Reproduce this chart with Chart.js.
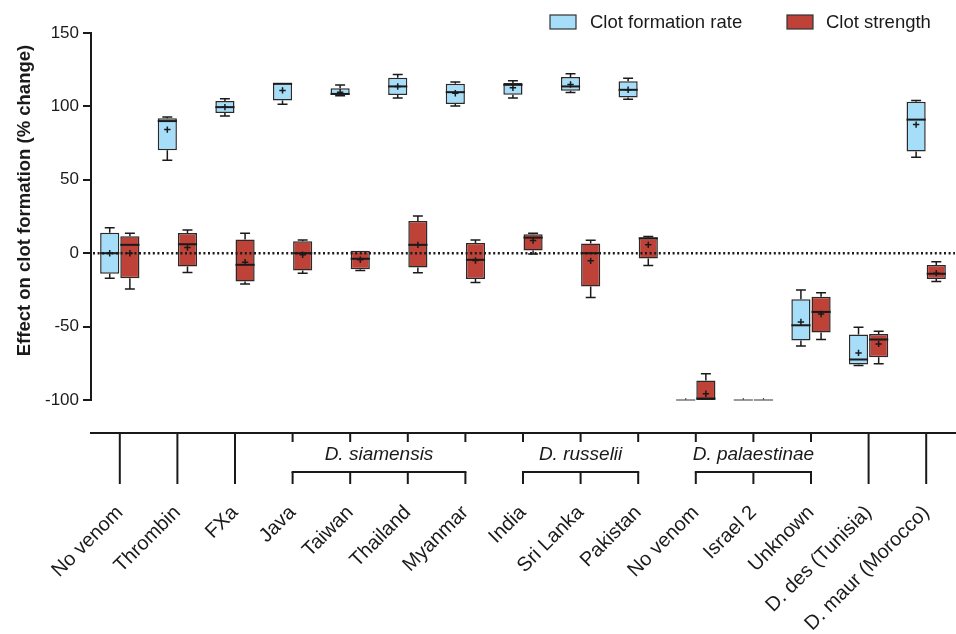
<!DOCTYPE html>
<html><head><meta charset="utf-8">
<script src="https://cdn.jsdelivr.net/npm/chart.js@4.4.1/dist/chart.umd.min.js"></script>
<style>html,body{margin:0;padding:0;background:#fff}#wrap{width:956px;height:634px;position:relative}</style>
</head><body><div id="wrap"><canvas id="c"></canvas></div>
<script>
const categories = ['No venom','Thrombin','FXa','Java','Taiwan','Thailand','Myanmar','India','Sri Lanka','Pakistan','No venom','Israel 2','Unknown','D. des (Tunisia)','D. maur (Morocco)'];
const groupNames = ['D. siamensis','D. russelii','D. palaestinae'];
const groupFirst = [3, 7, 10];
const groupLast = [6, 9, 12];
const seriesNames = ['Clot formation rate','Clot strength'];
const yTitle = 'Effect on clot formation (% change)';
const yTicks = [-100, -50, 0, 50, 100, 150];

const rateMin    = [-17, 63.3, 93.4, 101.4, 107.2, 105.7, 100.2, 105.7, 109.5, 104.8, -100, -100, -63.3, -76.5, 65.4];
const rateQ1     = [-14, 70.1, 95.5, 104.0, 107.9, 107.7, 101.6, 107.9, 110.6, 106.1, -100, -100, -59.5, -75.8, 69.2];
const rateMedian = [0, 90.0, 99.5, 115.4, 108.5, 113.6, 109.7, 114.7, 113.6, 111.3, -100, -100, -49.1, -72.4, 91.0];
const rateQ3     = [14, 91.9, 103.6, 116.0, 112.4, 119.5, 115.4, 116.0, 120.1, 117.2, -100, -100, -31.4, -55.4, 103.2];
const rateMax    = [17.4, 92.8, 105.2, 116.3, 114.5, 121.7, 116.7, 117.4, 122.2, 119.2, -100, -100, -25.1, -50.5, 104.1];
const rateMean   = [0, 84.2, 99.5, 110.9, 109.7, 113.6, 109.0, 112.7, 114.9, 111.3, -100, -100, -46.8, -67.9, 87.6];

const strengthMin    = [-24.4, -13.1, -21.0, -13.6, -11.8, -13.3, -19.9, -0.5, -30.1, -8.4, -100, -100, -58.8, -75.3, -19.2];
const strengthQ1     = [-17.0, -9.0, -19.2, -11.8, -10.9, -9.7, -17.6, 1.8, -22.6, -3.6, -100, -100, -54.1, -70.8, -17.6];
const strengthMedian = [5.7, 6.1, -7.9, 0, -3.8, 5.7, -4.5, 10.6, 0, 10.2, -99, -100, -40.0, -58.8, -14.0];
const strengthQ3     = [11.5, 13.8, 9.3, 8.1, 1.6, 21.9, 7.0, 12.9, 6.6, 10.6, -86.7, -100, -29.6, -55.0, -8.1];
const strengthMax    = [13.6, 15.8, 13.6, 9.0, 1.6, 25.3, 9.0, 13.6, 8.8, 11.3, -82.1, -100, -26.9, -53.2, -5.9];
const strengthMean   = [0, 3.8, -6.1, -1.1, -4.5, 5.7, -5.0, 8.6, -5.2, 5.7, -95.7, -100, -41.4, -61.8, -13.6];

const FONT = '"Liberation Sans", Arial, Helvetica, sans-serif';
const INK = '#1a1a1a';
const BLUE = 'rgb(166,221,248)';
const RED = 'rgb(190,66,56)';
Chart.defaults.font.family = FONT;
Chart.defaults.color = INK;

const stats = [
  {min: rateMin, q1: rateQ1, med: rateMedian, q3: rateQ3, max: rateMax, mean: rateMean},
  {min: strengthMin, q1: strengthQ1, med: strengthMedian, q3: strengthQ3, max: strengthMax, mean: strengthMean}
];

const boxExtras = {
  id: 'boxExtras',
  afterDatasetsDraw(chart) {
    const ctx = chart.ctx, ys = chart.scales.y, ca = chart.chartArea;
    ctx.save();
    ctx.strokeStyle = INK; ctx.lineWidth = 2.6; ctx.setLineDash([2, 2.6]);
    ctx.beginPath(); ctx.moveTo(ca.left + 2, ys.getPixelForValue(0)); ctx.lineTo(ca.right, ys.getPixelForValue(0)); ctx.stroke();
    ctx.setLineDash([]);
    stats.forEach((s, di) => {
      const meta = chart.getDatasetMeta(di);
      meta.data.forEach((bar, i) => {
        const x = bar.x, w = bar.width, cap = w * 0.26;
        const pMin = ys.getPixelForValue(s.min[i]), pQ1 = ys.getPixelForValue(s.q1[i]);
        const pQ3 = ys.getPixelForValue(s.q3[i]), pMax = ys.getPixelForValue(s.max[i]);
        const pMed = ys.getPixelForValue(s.med[i]), pMean = ys.getPixelForValue(s.mean[i]);
        ctx.strokeStyle = INK; ctx.lineWidth = 1.5;
        ctx.beginPath();
        if (pMax < pQ3 - 0.5) { ctx.moveTo(x, pQ3); ctx.lineTo(x, pMax); ctx.moveTo(x - cap, pMax); ctx.lineTo(x + cap, pMax); }
        if (pMin > pQ1 + 0.5) { ctx.moveTo(x, pQ1); ctx.lineTo(x, pMin); ctx.moveTo(x - cap, pMin); ctx.lineTo(x + cap, pMin); }
        ctx.stroke();
        if (Math.abs(pQ1 - pQ3) < 1) {
          ctx.strokeStyle = '#555'; ctx.lineWidth = 1.2;
          ctx.beginPath(); ctx.moveTo(x - w / 2, pQ1); ctx.lineTo(x + w / 2, pQ1); ctx.stroke();
          ctx.beginPath(); ctx.moveTo(x, pMean - 2); ctx.lineTo(x, pMean); ctx.stroke();
          return;
        }
        ctx.lineWidth = 2; ctx.strokeStyle = INK;
        ctx.beginPath(); ctx.moveTo(x - w / 2, pMed); ctx.lineTo(x + w / 2, pMed); ctx.stroke();
        ctx.lineWidth = 1.5;
        ctx.beginPath(); ctx.moveTo(x - 3.2, pMean); ctx.lineTo(x + 3.2, pMean); ctx.moveTo(x, pMean - 3.2); ctx.lineTo(x, pMean + 3.2); ctx.stroke();
      });
    });
    ctx.restore();
  }
};

const groupAxis = {
  id: 'groupAxis',
  afterDraw(chart) {
    const ctx = chart.ctx, xs = chart.scales.x, ca = chart.chartArea;
    const axisY = ca.bottom + 33, endY = ca.bottom + 84, shortY = ca.bottom + 42, brY = ca.bottom + 72, lblY = ca.bottom + 55;
    ctx.save();
    ctx.strokeStyle = INK; ctx.lineWidth = 2; ctx.lineCap = 'butt';
    ctx.beginPath(); ctx.moveTo(ca.left - 1, axisY); ctx.lineTo(chart.width, axisY); ctx.stroke();
    const inGroup = i => groupFirst.some((f, g) => i >= f && i <= groupLast[g]);
    categories.forEach((c, i) => {
      const x = xs.getPixelForValue(i);
      ctx.beginPath();
      if (inGroup(i)) { ctx.moveTo(x, axisY); ctx.lineTo(x, shortY); ctx.moveTo(x, brY); ctx.lineTo(x, endY); }
      else { ctx.moveTo(x, axisY); ctx.lineTo(x, endY); }
      ctx.stroke();
    });
    ctx.font = 'italic 19px ' + FONT; ctx.fillStyle = INK; ctx.textAlign = 'center'; ctx.textBaseline = 'middle';
    groupNames.forEach((name, g) => {
      const x1 = xs.getPixelForValue(groupFirst[g]), x2 = xs.getPixelForValue(groupLast[g]);
      ctx.beginPath(); ctx.moveTo(x1 - 1, brY); ctx.lineTo(x2 + 1, brY); ctx.stroke();
      ctx.fillText(name, (x1 + x2) / 2, lblY);
    });
    // y-axis title
    ctx.save();
    ctx.translate(24.5, (ca.top + ca.bottom) / 2 - 16);
    ctx.rotate(-Math.PI / 2);
    ctx.font = 'bold 18.5px ' + FONT; ctx.textAlign = 'center'; ctx.textBaseline = 'middle';
    ctx.fillText(yTitle, 0, 0);
    ctx.restore();
    ctx.restore();
  }
};

const customLegend = {
  id: 'customLegend',
  afterDraw(chart) {
    const ctx = chart.ctx;
    const items = [{x: 550, tx: 590, color: BLUE}, {x: 787, tx: 826, color: RED}];
    ctx.save();
    ctx.font = '18.5px ' + FONT; ctx.textBaseline = 'middle'; ctx.textAlign = 'left';
    items.forEach((it, k) => {
      ctx.fillStyle = it.color; ctx.fillRect(it.x, 15, 26, 14);
      ctx.strokeStyle = '#333'; ctx.lineWidth = 1.2; ctx.strokeRect(it.x, 15, 26, 14);
      ctx.fillStyle = INK; ctx.fillText(seriesNames[k], it.tx, 22.5);
    });
    ctx.restore();
  }
};

new Chart(document.getElementById('c'), {
  type: 'bar',
  data: {
    labels: categories,
    datasets: [
      {label: seriesNames[0], data: rateQ1.map((q, i) => [q, rateQ3[i]]), backgroundColor: BLUE, borderColor: '#2a2a2a', borderWidth: 1.5, borderSkipped: false, categoryPercentage: 0.7, barPercentage: 0.95},
      {label: seriesNames[1], data: strengthQ1.map((q, i) => [q, strengthQ3[i]]), backgroundColor: RED, borderColor: '#2a2a2a', borderWidth: 1.5, borderSkipped: false, categoryPercentage: 0.7, barPercentage: 0.95}
    ]
  },
  options: {
    responsive: true, maintainAspectRatio: false, animation: false,
    layout: {padding: {top: 33, right: 1, left: 0, bottom: 0}},
    plugins: {legend: {display: false}, tooltip: {enabled: false}},
    scales: {
      x: {
        grid: {display: false}, border: {display: false},
        ticks: {autoSkip: false, maxRotation: 45, minRotation: 45, font: {size: 20}, color: INK, padding: 93},
        afterFit(s) { s.height = 234; s.paddingLeft = 0; s.paddingRight = 0; }
      },
      y: {
        min: -100, max: 150,
        afterBuildTicks(s) { s.ticks = yTicks.map(v => ({value: v})); },
        ticks: {font: {size: 17}, color: INK, padding: 4},
        grid: {drawOnChartArea: false, drawTicks: true, tickLength: 8, color: INK, lineWidth: 2},
        border: {display: true, color: INK, width: 2},
        title: {display: false},
        afterFit(s) { s.width = 91; }
      }
    }
  },
  plugins: [boxExtras, groupAxis, customLegend]
});
</script>
</body></html>
